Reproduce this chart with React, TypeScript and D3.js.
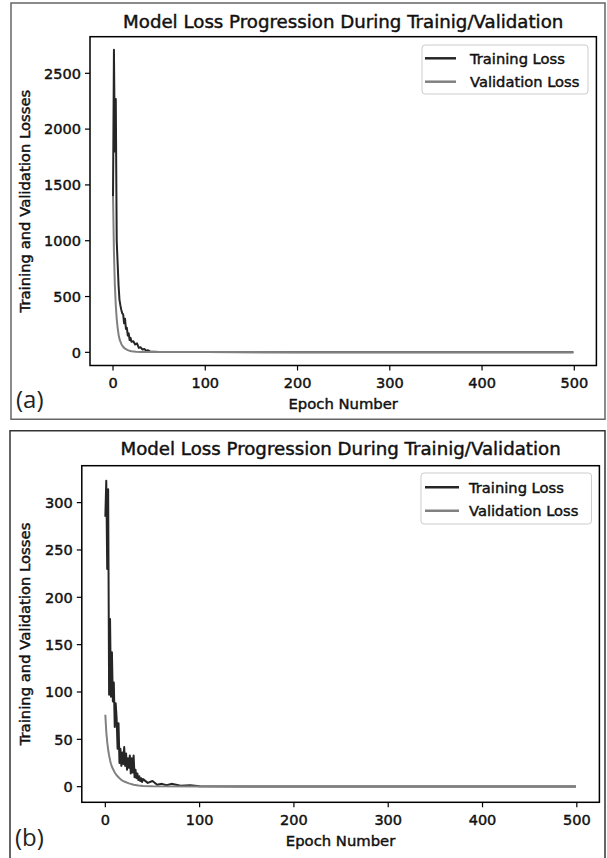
import React from "react";
import * as d3 from "d3";

// ---------- data ----------
const xTicks = [0, 100, 200, 300, 400, 500];
const yTicksA = [0, 500, 1000, 1500, 2000, 2500];
const yTicksB = [0, 50, 100, 150, 200, 250, 300];

const epochsTrainA = [0,1,2,3,4,5,6,7,8,9,10,11,12,13,14,15,16,17,18,19,20,22,24,26,28,30,32,34,36,38,40,45,50,60,80,100,200,300,499];
const trainLossA = [1400,2710,1800,2270,1000,800,600,470,420,380,350,340,260,300,210,220,150,170,110,130,95,100,70,80,40,45,25,30,15,18,8,6,4,3,2,2,1.5,1.2,1];

const epochsValA = [0,1,2,3,4,5,6,7,8,9,10,11,12,14,16,18,20,25,30,40,60,100,200,499];
const valLossA = [1400,900,600,420,300,220,160,120,95,75,60,50,40,28,20,14,10,6,4,3.5,3,2,1.8,1.5];

const epochsTrainB = [0,1,2,3,4,5,6,7,8,9,10,11,12,13,14,15,16,17,18,19,20,21,22,23,24,25,26,27,28,29,30,31,32,33,34,35,36,37,38,39,40,45,50,55,60,65,70,80,90,100,150,499];
const trainLossB = [285,323,230,314,97,177,95,142,90,110,63,88,72,40,67,25,40,22,36,24,42,22,35,18,30,20,33,14,30,15,33,10,18,9,14,7,11,6,9,5,8,4,6,2,3,1.5,3,1,1.5,0.5,0.3,0.3];

const epochsValB = [0,1,2,3,4,5,6,7,8,9,10,12,14,16,18,20,25,30,35,40,50,100,499];
const valLossB = [76,58,47,39,33,28,24,21,19,17,15,12,10,8,6.5,5.5,3.5,2,1.2,0.8,0.5,0.3,0.2];

const seriesNames = ["Training Loss", "Validation Loss"];
const titleText = "Model Loss Progression During Trainig/Validation";
const xLabelText = "Epoch Number";
const yLabelText = "Training and Validation Losses";

const FONT = "DejaVu Sans, sans-serif";
const TXT = "#111";
const SW = 0.45;
const TRAIN_C = "#262626";
const VAL_C = "#808080";

type PanelProps = {
  frame: { x0: number; y0: number; x1: number; y1: number; color: string };
  box: { l: number; r: number; t: number; b: number };
  yDomain: [number, number];
  yTicks: number[];
  train: { x: number[]; y: number[] };
  val: { x: number[]; y: number[] };
  legend: { l: number; r: number; t: number; b: number; row1: number; row2: number; lx0: number; lx1: number; tx: number };
  tag: string;
  tagPos: { x: number; y: number };
  titleY: number;
};

function Panel(p: PanelProps) {
  const { box } = p;
  const x = d3.scaleLinear().domain([-24.95, 523.95]).range([box.l, box.r]);
  const y = d3.scaleLinear().domain(p.yDomain).range([box.b, box.t]);
  const line = d3
    .line<[number, number]>()
    .x((d) => x(d[0]))
    .y((d) => y(d[1]));
  const trainPts: [number, number][] = p.train.x.map((e, i) => [e, p.train.y[i]]);
  const valPts: [number, number][] = p.val.x.map((e, i) => [e, p.val.y[i]]);
  const cx = (box.l + box.r) / 2;
  const cy = (box.t + box.b) / 2;
  const clipId = "clip" + p.tag.replace(/[()]/g, "");
  const L = p.legend;
  return (
    <g>
      <path
        d={`M${p.frame.x0},${p.frame.y1} L${p.frame.x0},${p.frame.y0} L${p.frame.x1},${p.frame.y0} L${p.frame.x1},${p.frame.y1}${p.frame.y1 < 858 ? " Z" : ""}`}
        fill="none"
        stroke={p.frame.color}
        strokeWidth={1.5}
      />
      <text x={cx} y={p.titleY} textAnchor="middle" fontFamily={FONT} fontSize={18.2} fill={TXT} stroke={TXT} strokeWidth={SW}>
        {titleText}
      </text>
      <defs>
        <clipPath id={clipId}>
          <rect x={box.l} y={box.t} width={box.r - box.l} height={box.b - box.t} />
        </clipPath>
      </defs>
      <g clipPath={`url(#${clipId})`}>
        <path d={line(trainPts) || ""} fill="none" stroke={TRAIN_C} strokeWidth={2} strokeLinejoin="round" />
        <path d={line(valPts) || ""} fill="none" stroke={VAL_C} strokeWidth={2} strokeLinejoin="round" />
      </g>
      <rect x={box.l} y={box.t} width={box.r - box.l} height={box.b - box.t} fill="none" stroke="#000" strokeWidth={1.5} />
      {xTicks.map((t) => (
        <g key={"x" + t}>
          <line x1={x(t)} x2={x(t)} y1={box.b} y2={box.b + 5} stroke="#000" strokeWidth={1.2} />
          <text x={x(t)} y={box.b + 22.5} textAnchor="middle" fontFamily={FONT} fontSize={14.5} fill={TXT} stroke={TXT} strokeWidth={SW}>
            {t}
          </text>
        </g>
      ))}
      {p.yTicks.map((t) => (
        <g key={"y" + t}>
          <line x1={box.l - 5} x2={box.l} y1={y(t)} y2={y(t)} stroke="#000" strokeWidth={1.2} />
          <text x={box.l - 9} y={y(t) + 5.3} textAnchor="end" fontFamily={FONT} fontSize={14.5} fill={TXT} stroke={TXT} strokeWidth={SW}>
            {t}
          </text>
        </g>
      ))}
      <text x={cx} y={box.b + 43.5} textAnchor="middle" fontFamily={FONT} fontSize={14.8} fill={TXT} stroke={TXT} strokeWidth={SW}>
        {xLabelText}
      </text>
      <text
        transform={`translate(30,${cy}) rotate(-90)`}
        textAnchor="middle"
        fontFamily={FONT}
        fontSize={14.8}
        fill={TXT}
        stroke={TXT}
        strokeWidth={SW}
      >
        {yLabelText}
      </text>
      <rect x={L.l} y={L.t} width={L.r - L.l} height={L.b - L.t} rx={3} fill="#fff" fillOpacity={0.8} stroke="#cccccc" strokeWidth={1} />
      <line x1={L.lx0} x2={L.lx1} y1={L.row1} y2={L.row1} stroke={TRAIN_C} strokeWidth={2.5} />
      <line x1={L.lx0} x2={L.lx1} y1={L.row2} y2={L.row2} stroke={VAL_C} strokeWidth={2.5} />
      <text x={L.tx} y={L.row1 + 5.3} fontFamily={FONT} fontSize={14.7} fill={TXT} stroke={TXT} strokeWidth={SW}>
        {seriesNames[0]}
      </text>
      <text x={L.tx} y={L.row2 + 5.3} fontFamily={FONT} fontSize={14.7} fill={TXT} stroke={TXT} strokeWidth={SW}>
        {seriesNames[1]}
      </text>
      <text x={p.tagPos.x} y={p.tagPos.y} fontFamily="Open Sans, sans-serif" fontSize={24} fill="#222">
        {p.tag}
      </text>
    </g>
  );
}

export default function App() {
  return (
    <svg width={607} height={858} style={{ position: "absolute", left: 0, top: 0, background: "#fff" }}>
      <rect x={0} y={0} width={607} height={858} fill="#fff" />
      <Panel
        frame={{ x0: 11, y0: 3, x1: 605, y1: 419.3, color: "#666" }}
        box={{ l: 90, r: 596.4, t: 36.7, b: 365.5 }}
        yDomain={[-118, 2828]}
        yTicks={yTicksA}
        train={{ x: epochsTrainA, y: trainLossA }}
        val={{ x: epochsValA, y: valLossA }}
        legend={{ l: 422, r: 588, t: 45, b: 94, row1: 58.3, row2: 81.7, lx0: 425, lx1: 456, tx: 470 }}
        tag="(a)"
        tagPos={{ x: 16, y: 408 }}
        titleY={28}
      />
      <Panel
        frame={{ x0: 10, y0: 430.7, x1: 605, y1: 870, color: "#333" }}
        box={{ l: 81.8, r: 599.4, t: 465.7, b: 802.3 }}
        yDomain={[-16.5, 339]}
        yTicks={yTicksB}
        train={{ x: epochsTrainB, y: trainLossB }}
        val={{ x: epochsValB, y: valLossB }}
        legend={{ l: 421, r: 591.5, t: 473, b: 524, row1: 487.3, row2: 510.7, lx0: 425, lx1: 459, tx: 469 }}
        tag="(b)"
        tagPos={{ x: 15, y: 846 }}
        titleY={455}
      />
    </svg>
  );
}
